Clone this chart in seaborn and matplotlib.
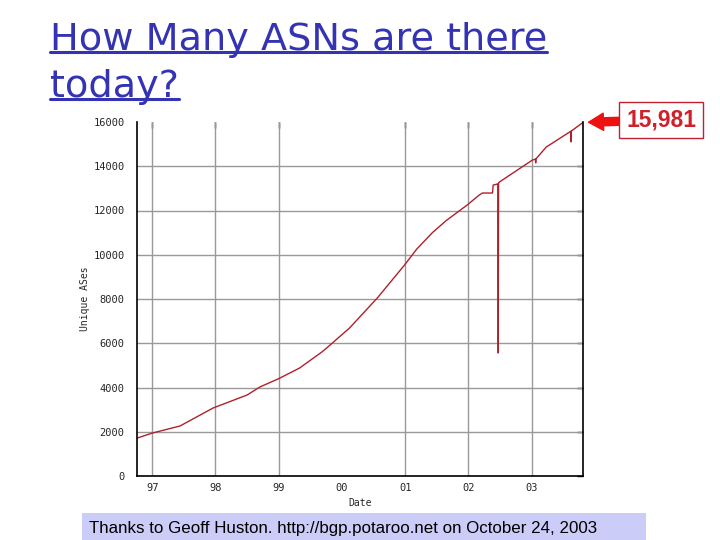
import numpy as np
import pandas as pd
import matplotlib
matplotlib.use("Agg")
from matplotlib import pyplot as plt
from matplotlib.lines import Line2D
from matplotlib.patches import Rectangle
import seaborn as sns

# unique ASes seen in the BGP table (decimal years)
dates = [1996.77, 1997.0, 1997.44, 1997.96, 1998.50, 1998.70, 1999.0, 1999.33,
         1999.68, 1999.76, 2000.12, 2000.56, 2000.99, 2001.18, 2001.43, 2001.65,
         2001.98, 2002.17, 2002.22, 2002.38, 2002.39, 2002.465, 2002.47, 2002.475,
         2002.49, 2003.01, 2003.06, 2003.062, 2003.065, 2003.23, 2003.60, 2003.62,
         2003.622, 2003.625, 2003.81]
asns = [1720, 1940, 2260, 3070, 3660, 4020, 4400, 4880,
        5600, 5790, 6690, 8050, 9540, 10250, 11000, 11550,
        12250, 12700, 12790, 12790, 13150, 13200, 5560, 13250,
        13290, 14280, 14320, 14150, 14330, 14870, 15550, 15580,
        15100, 15590, 15981]
year_ticks = [1997, 1998, 1999, 2000, 2001, 2002, 2003]
year_labels = ["97", "98", "99", "00", "01", "02", "03"]
y_ticks = [0, 2000, 4000, 6000, 8000, 10000, 12000, 14000, 16000]
last_count = "15,981"

df = pd.DataFrame({"Date": dates, "Unique ASes": asns})

sns.set_style("white")
fig = plt.figure(figsize=(7.2, 5.4), dpi=100)
ax = fig.add_axes([137 / 720, 64 / 540, 446 / 720, 354 / 540])

sns.lineplot(data=df, x="Date", y="Unique ASes", ax=ax, estimator=None,
             sort=False, color="#B0202C", linewidth=1.0)

ax.set_xlim(1996.76, 2003.81)
ax.set_ylim(0, 16000)
ax.set_xticks(year_ticks)
ax.set_xticklabels(year_labels)
ax.set_yticks(y_ticks)
ax.set_yticklabels([str(v) for v in y_ticks])
for lab in ax.get_xticklabels() + ax.get_yticklabels():
    lab.set_family("DejaVu Sans Mono")
    lab.set_fontsize(7.5)
ax.tick_params(axis="y", direction="out", length=4, width=1, pad=5, color="black")
ax.tick_params(axis="x", direction="in", length=4, width=1, pad=5, color="black")
ax.grid(True, color="#999999", linewidth=1)
# the original has no grid/tick at 00 and nothing drawn on the top edge
ax.xaxis.get_gridlines()[3].set_visible(False)
ax.xaxis.get_ticklines()[6].set_visible(False)
ax.yaxis.get_gridlines()[-1].set_visible(False)
ax.set_xlabel("Date", family="DejaVu Sans Mono", fontsize=7, labelpad=4)
ax.set_ylabel("Unique ASes", family="DejaVu Sans Mono", fontsize=7, labelpad=2)
for s in ["left", "bottom", "right"]:
    ax.spines[s].set_visible(True)
    ax.spines[s].set_color("black")
    ax.spines[s].set_linewidth(1.2)
ax.spines["top"].set_visible(False)

# inward ticks on the right and top edges
right = ax.secondary_yaxis("right")
right.set_yticks(y_ticks[:-1])
right.tick_params(direction="in", length=4, width=1, labelright=False, color="black")
right.spines["right"].set_visible(False)
top = ax.secondary_xaxis("top")
top.set_xticks([y for y in year_ticks if y != 2000])
top.tick_params(direction="in", length=4, width=1, labeltop=False, color="black")
top.spines["top"].set_visible(False)

# callout with the latest value
ax.annotate(last_count, xy=(dates[-1], asns[-1]), xycoords="data",
            xytext=(661 / 720, 1 - 120 / 540), textcoords="figure fraction",
            ha="center", va="center", fontsize=16.5, fontweight="bold",
            color="#D0202A", family="Liberation Sans",
            bbox=dict(boxstyle="square,pad=0.3", fc="white", ec="#C02030", lw=1),
            arrowprops=dict(arrowstyle="simple,head_length=0.65,head_width=0.75,tail_width=0.35",
                            color="#EE1111", shrinkA=0, shrinkB=4))

# title, underlined
title_color = "#3333B3"
t1 = fig.text(50 / 720, 1 - 50 / 540, "How Many ASNs are there", color=title_color,
              fontsize=27.5, family="DejaVu Sans", va="baseline", ha="left")
t2 = fig.text(50 / 720, 1 - 97 / 540, "today?", color=title_color,
              fontsize=27.5, family="DejaVu Sans", va="baseline", ha="left")
fig.canvas.draw()
r = fig.canvas.get_renderer()
for t, yb in [(t1, 52), (t2, 99)]:
    bb = t.get_window_extent(r)
    fig.add_artist(Line2D([bb.x0 / 720, bb.x1 / 720], [1 - yb / 540, 1 - yb / 540],
                          transform=fig.transFigure, color=title_color, linewidth=2.2))

# footer credit box
fig.add_artist(Rectangle((82 / 720, 0), 564 / 720, 27 / 540, transform=fig.transFigure,
                         facecolor="#CCCCF8", edgecolor="none"))
fig.text(89 / 720, 1 - 533 / 540,
         "Thanks to Geoff Huston. http://bgp.potaroo.net on October 24, 2003",
         fontsize=12.2, family="Liberation Sans", color="black", va="baseline")

fig.savefig("out.png", dpi=100)
